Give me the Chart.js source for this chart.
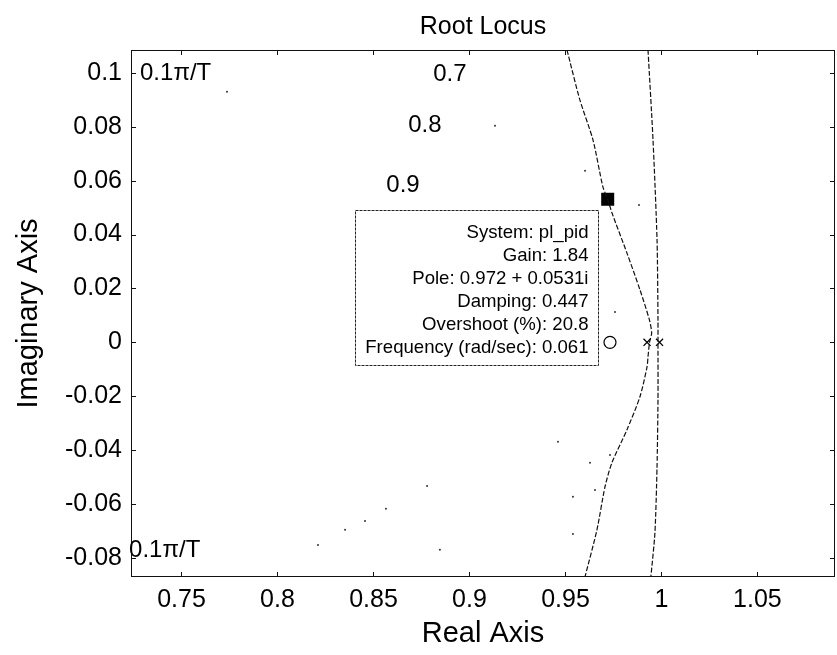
<!DOCTYPE html>
<html>
<head>
<meta charset="utf-8">
<title>Root Locus</title>
<script src="https://cdn.jsdelivr.net/npm/chart.js@4.4.1/dist/chart.umd.min.js"></script>
<style>
  html, body { margin: 0; padding: 0; background: #fff; overflow: hidden; }
  #wrap { width: 837px; height: 655px; }
  #rlocus { display: block; width: 837px; height: 655px; }
</style>
</head>
<body>
<div id="wrap"><canvas id="rlocus" width="837" height="655"></canvas></div>
<script>
// Lieu des racines (plan z) avec le point sélectionné sur la branche complexe

const xTicks = [0.75, 0.8, 0.85, 0.9, 0.95, 1, 1.05];
const xTickLabels = ['0.75', '0.8', '0.85', '0.9', '0.95', '1', '1.05'];
const yTicks = [-0.08, -0.06, -0.04, -0.02, 0, 0.02, 0.04, 0.06, 0.08, 0.1];
const yTickLabels = ['-0.08', '-0.06', '-0.04', '-0.02', '0', '0.02', '0.04', '0.06', '0.08', '0.1'];
const xLimites = [0.7237, 1.0904];
const yLimites = [-0.0871, 0.1085];

// branche complexe, du haut vers le bas
const brancheRe = [0.9508, 0.9575, 0.9643, 0.9695, 0.9720, 0.9742, 0.9820, 0.9888, 0.9937, 0.9949,
                   0.9938, 0.9930, 0.9925, 0.9888, 0.9820, 0.9742, 0.9706, 0.9664, 0.9602];
const brancheIm = [0.1085, 0.0900, 0.0752, 0.0577, 0.0531, 0.0481, 0.0332, 0.0195, 0.0084, 0.0035,
                   0, -0.0054, -0.0091, -0.0202, -0.0325, -0.0447, -0.0536, -0.0696, -0.0870];

// branche partant du pôle près de z = 1
const branche2Re = [0.9930, 0.9956, 0.9977, 0.9982, 0.9982, 0.9982, 0.9977, 0.9966, 0.9945];
const branche2Im = [0.1085, 0.0752, 0.0380, 0.0084, 0, -0.0213, -0.0462, -0.0707, -0.0870];

const polesRe = [0.9925, 0.9990];
const polesIm = [0, 0];
const zerosRe = [0.9732];
const zerosIm = [0];

// pôle sélectionné (data tip)
const selRe = [0.972];
const selIm = [0.0531];
const infoLignes = ['System: pl_pid', 'Gain: 1.84', 'Pole: 0.972 + 0.0531i',
                    'Damping: 0.447', 'Overshoot (%): 20.8', 'Frequency (rad/sec): 0.061'];

// points restants de la grille zgrid (pointillés très espacés)
const grilleRe = [0.7737, 0.9133, 0.9602, 0.9883, 0.8779, 0.8565, 0.8456, 0.8352, 0.8211,
                  0.8846, 0.9461, 0.9628, 0.9654, 0.9539, 0.9539, 0.9732, 0.9758];
const grilleIm = [0.0930, 0.0804, 0.0637, 0.0510, -0.0533, -0.0618, -0.0663, -0.0696, -0.0752,
                  -0.0770, -0.0369, -0.0447, -0.0548, -0.0573, -0.0711, -0.0418, 0.0113];

// étiquettes de la grille (amortissement et fréquence)
const grilleTextes = ['0.7', '0.8', '0.9', '0.1\u03C0/T', '0.1\u03C0/T'];
const grilleTextesRe = [0.8898, 0.8768, 0.8654, 0.7284, 0.7227];
const grilleTextesIm = [0.0993, 0.0807, 0.0581, 0.1000, -0.0774];
const grilleTextesAlign = ['center', 'center', 'center', 'left', 'left'];

const police = '"Liberation Sans", Arial, Helvetica, sans-serif';

function points(re, im) {
    return re.map((v, i) => ({ x: v, y: im[i] }));
}

function libelle(valeurs, textes) {
    return function (v) {
        const i = valeurs.findIndex(t => Math.abs(t - v) < 1e-9);
        return i >= 0 ? textes[i] : '';
    };
}

// cadre complet + graduations vers l'intérieur, textes de grille, data tip
const decor = {
    id: 'decor',
    afterDraw(chart) {
        const ctx = chart.ctx;
        const a = chart.chartArea;
        const sx = chart.scales.x;
        const sy = chart.scales.y;
        const tl = 5;

        ctx.save();
        ctx.strokeStyle = '#111';
        ctx.lineWidth = 1;
        ctx.strokeRect(a.left + 0.5, a.top + 0.5, a.right - a.left - 1, a.bottom - a.top - 1);

        ctx.beginPath();
        xTicks.forEach(v => {
            const px = Math.round(sx.getPixelForValue(v)) + 0.5;
            ctx.moveTo(px, a.bottom); ctx.lineTo(px, a.bottom - tl);
            ctx.moveTo(px, a.top); ctx.lineTo(px, a.top + tl);
        });
        yTicks.forEach(v => {
            const py = Math.round(sy.getPixelForValue(v)) + 0.5;
            ctx.moveTo(a.left, py); ctx.lineTo(a.left + tl, py);
            ctx.moveTo(a.right, py); ctx.lineTo(a.right - tl, py);
        });
        ctx.stroke();

        // textes de la grille
        ctx.fillStyle = '#000';
        ctx.font = '24px ' + police;
        ctx.textBaseline = 'middle';
        grilleTextes.forEach((t, i) => {
            ctx.textAlign = grilleTextesAlign[i];
            ctx.fillText(t, sx.getPixelForValue(grilleTextesRe[i]), sy.getPixelForValue(grilleTextesIm[i]));
        });

        // boîte d'information du pôle sélectionné
        const px = sx.getPixelForValue(selRe[0]);
        const py = sy.getPixelForValue(selIm[0]);
        const droite = Math.round(px - 10) + 0.5;
        const haut = Math.round(py + 11) + 0.5;
        const largeur = 243;
        const hauteur = 155;
        ctx.fillStyle = '#fff';
        ctx.fillRect(droite - largeur, haut, largeur, hauteur);
        ctx.setLineDash([3, 1]);
        ctx.strokeStyle = '#222';
        ctx.strokeRect(droite - largeur, haut, largeur, hauteur);
        ctx.setLineDash([]);
        ctx.fillStyle = '#000';
        ctx.font = '18.6px ' + police;
        ctx.textAlign = 'right';
        infoLignes.forEach((t, i) => {
            ctx.fillText(t, droite - 10, haut + 22 + i * 23);
        });
        ctx.restore();
    }
};

new Chart(document.getElementById('rlocus'), {
    type: 'scatter',
    data: {
        datasets: [
            {
                data: points(grilleRe, grilleIm),
                showLine: false,
                pointRadius: 1,
                pointBackgroundColor: '#333',
                pointBorderWidth: 0
            },
            {
                data: points(brancheRe, brancheIm),
                showLine: true,
                borderColor: '#111',
                borderWidth: 1.2,
                borderDash: [5, 2],
                tension: 0.25,
                pointRadius: 0
            },
            {
                data: points(branche2Re, branche2Im),
                showLine: true,
                borderColor: '#111',
                borderWidth: 1.2,
                borderDash: [5, 2],
                tension: 0.25,
                pointRadius: 0
            },
            {
                data: points(polesRe, polesIm),
                showLine: false,
                pointStyle: 'crossRot',
                pointRadius: 5,
                pointBorderColor: '#000',
                pointBorderWidth: 1.3
            },
            {
                data: points(zerosRe, zerosIm),
                showLine: false,
                pointStyle: 'circle',
                pointRadius: 6,
                pointBackgroundColor: '#fff',
                pointBorderColor: '#000',
                pointBorderWidth: 1.2
            },
            {
                data: points(selRe, selIm),
                showLine: false,
                pointStyle: 'rect',
                pointRadius: 9.2,
                pointBackgroundColor: '#000',
                pointBorderColor: '#000',
                pointBorderWidth: 0
            }
        ]
    },
    options: {
        responsive: false,
        animation: false,
        devicePixelRatio: 1,
        // pas de marge automatique autour des points : le cadre va jusqu'au bord droit
        layout: { autoPadding: false, padding: { top: 0, right: 2, bottom: 0, left: 0 } },
        plugins: {
            legend: { display: false },
            tooltip: { enabled: false },
            title: {
                display: true,
                fullSize: false,
                text: 'Root Locus',
                color: '#000',
                font: { family: police, size: 25, weight: 'normal' },
                padding: { top: 12, bottom: 8 }
            }
        },
        scales: {
            x: {
                type: 'linear',
                min: xLimites[0],
                max: xLimites[1],
                border: { display: false },
                grid: { display: false, drawTicks: false },
                ticks: {
                    autoSkip: false,
                    maxRotation: 0,
                    padding: 8,
                    color: '#000',
                    font: { family: police, size: 25 },
                    callback: libelle(xTicks, xTickLabels)
                },
                title: {
                    display: true,
                    text: 'Real Axis',
                    color: '#000',
                    font: { family: police, size: 29 },
                    padding: { top: 0, bottom: 4 }
                },
                afterBuildTicks: s => { s.ticks = xTicks.map(v => ({ value: v })); },
                afterFit: s => { s.height = 78; s.paddingLeft = 0; s.paddingRight = 0; }
            },
            y: {
                type: 'linear',
                min: yLimites[0],
                max: yLimites[1],
                border: { display: false },
                grid: { display: false, drawTicks: false },
                ticks: {
                    autoSkip: false,
                    padding: 9,
                    color: '#000',
                    font: { family: police, size: 25 },
                    callback: libelle(yTicks, yTickLabels)
                },
                title: {
                    display: true,
                    text: 'Imaginary Axis',
                    color: '#000',
                    font: { family: police, size: 29 },
                    padding: { top: 12, bottom: 0 }
                },
                afterBuildTicks: s => { s.ticks = yTicks.map(v => ({ value: v })); },
                afterFit: s => { s.width = 131; s.paddingTop = 0; s.paddingBottom = 0; }
            }
        }
    },
    plugins: [decor]
});
</script>
</body>
</html>
